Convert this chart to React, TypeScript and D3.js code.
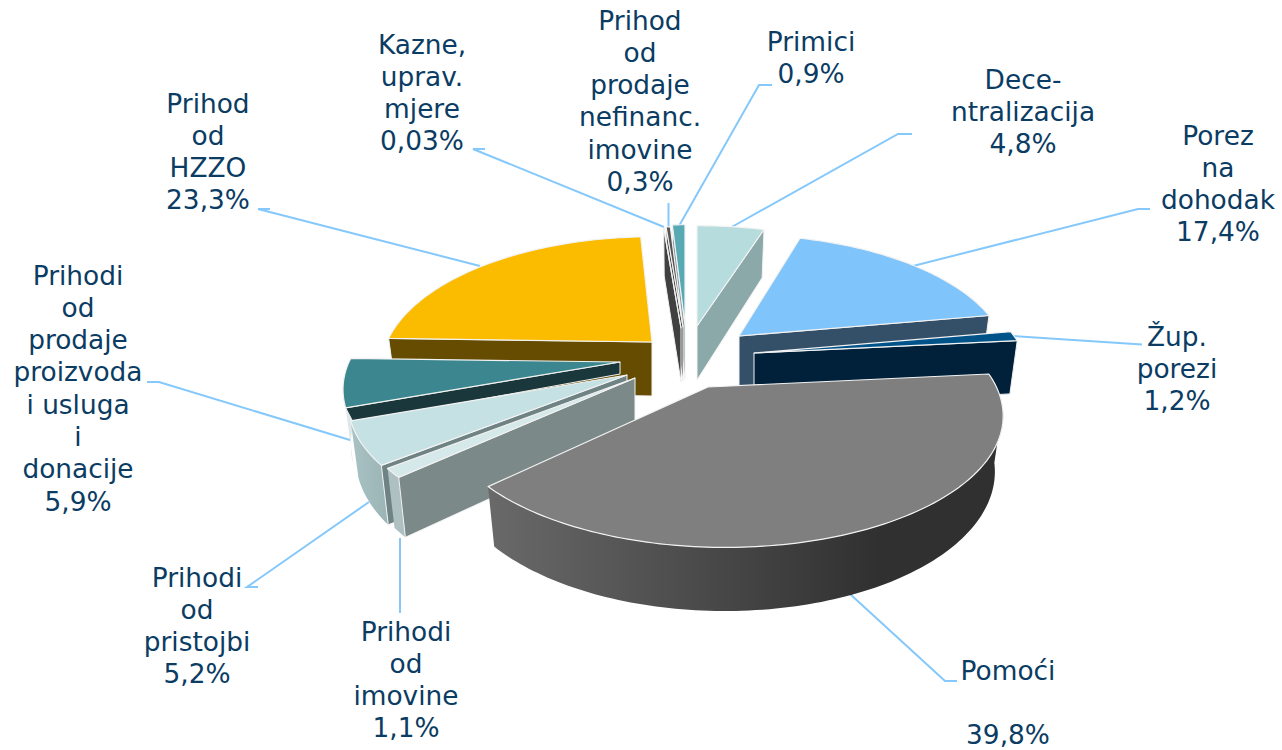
import React from "react";
import * as d3 from "d3";

// ---------- data ----------
const names = ["Dece-ntralizacija", "Porez na dohodak", "Žup. porezi", "Pomoći", "Prihodi od imovine", "Prihodi od pristojbi", "Prihodi od prodaje proizvoda i usluga i donacije", "Prihod od HZZO", "Kazne, uprav. mjere", "Prihod od prodaje nefinanc. imovine", "Primici"];
const shares = [4.8, 17.4, 1.2, 39.8, 1.1, 5.2, 5.9, 23.3, 0.03, 0.3, 0.9];

// ---------- layout of the exploded slices (same order as data) ----------
const apexX = [697, 739, 754, 708, 635, 627, 620, 652, 681, 683, 685];
const apexY = [326, 336, 353, 387, 378, 375, 362, 342, 328, 327, 325];
const radiusX = [270, 263, 270, 274, 275, 273, 271, 265, 270, 270, 270];
const radiusY = [121, 122, 127, 127, 127, 127, 127, 127, 121, 121, 121];
const sideLean = [0, 0, 0, 0.05, 0, 0, 0, 0, 0, 0, 0];
const startNudge = [0, -0.02, 0, 0, 0, 0, 0, 0, 0, 0, 0];
const endNudge = [0, 0, 0, -0.035, 0, 0, 0, 0.026, 0, 0, 0];
const wallDepth = [54, 54, 54, 54, 54, 54, 12, 54, 54, 54, 54];
const topFill = ["#b7dcdd", "#7fc4fa", "#005389", "#7f7f7f", "#d5e8ea", "#c5e1e3", "#3c878f", "#fbbc00", "#555555", "#555555", "#57a9b3"];
const wallFill = ["#8ca9aa", "#335068", "#002139", "#333333", "#7b8a88", "#6f8385", "#1a373b", "#654c00", "#404040", "#404040", "#8a9a9c"];
const rimFill = ["#8ca9aa", "#335068", "#002139", "url(#rimGrey)", "#aec0c2", "url(#rimLight)", "#dfe7e8", "#654c00", "#404040", "#404040", "#8a9a9c"];
const paintOrder = [0, 10, 9, 8, 7, 6, 1, 2, 5, 4, 3];

const perspective = 0.207;
const depth = 54;
const bottomScaleX = 0.972;
const bottomScaleY = 1.06;

// ---------- labels ----------
const labelLines = [
  ["Dece-", "ntralizacija", "4,8%"],
  ["Porez", "na", "dohodak", "17,4%"],
  ["Žup.", "porezi", "1,2%"],
  ["Pomoći", "", "39,8%"],
  ["Prihodi", "od", "imovine", "1,1%"],
  ["Prihodi", "od", "pristojbi", "5,2%"],
  ["Prihodi", "od", "prodaje", "proizvoda", "i usluga", "i", "donacije", "5,9%"],
  ["Prihod", "od", "HZZO", "23,3%"],
  ["Kazne,", "uprav.", "mjere", "0,03%"],
  ["Prihod", "od", "prodaje", "nefinanc.", "imovine", "0,3%"],
  ["Primici", "0,9%"],
];
const labelX = [1023, 1218, 1177, 1008, 406, 197, 78, 208, 422, 640, 811];
const labelTop = [79, 135, 336, 670, 631, 577, 275, 103, 44, 20, 41];
const leaders: [number, number][][] = [
  [[912, 134], [898, 134], [730, 228]],
  [[1150, 209], [1138, 209], [913, 266]],
  [[1142, 344.5], [1014, 336]],
  [[957, 681], [945, 681], [850, 594]],
  [[400, 613], [400, 538]],
  [[258, 587], [247, 587], [369, 502]],
  [[147, 382], [159, 382], [350, 440]],
  [[270, 209], [258, 209], [480, 266]],
  [[485, 149], [473, 149], [664, 227]],
  [[668.5, 203], [668.5, 227]],
  [[772, 85], [759, 85], [679, 226]],
];

const arcs = d3.pie<number>().sort(null).startAngle(0).endAngle(2 * Math.PI)(shares);

type P = [number, number];
const line = d3.line<P>();

function rimPoint(i: number, t: number): P {
  const w = 1 + perspective * Math.cos(t) - sideLean[i] * Math.sin(t);
  return [apexX[i] + (radiusX[i] * Math.sin(t)) / w, apexY[i] - (radiusY[i] * Math.cos(t)) / w];
}
function below(i: number, p: P, d: number = depth): P {
  return [apexX[i] + bottomScaleX * (p[0] - apexX[i]), apexY[i] + d + bottomScaleY * (p[1] - apexY[i])];
}
function rimRange(a: number, b: number): number[] {
  const n = Math.max(2, Math.ceil((b - a) / 0.02));
  return d3.range(n + 1).map((k) => a + ((b - a) * k) / n);
}

const strokeCol = "#f2f2f2";

function Slice({ i }: { i: number }) {
  const a = arcs[i].startAngle + startNudge[i];
  const b = arcs[i].endAngle + endNudge[i];
  const apex: P = [apexX[i], apexY[i]];
  const top = rimRange(a, b).map((t) => rimPoint(i, t));
  const topPath = line([apex, ...top]) + "Z";
  const parts: React.ReactNode[] = [];
  const oa = Math.max(a, 1.72);
  const ob = Math.min(b, 4.74);
  if (ob > oa) {
    const upper = rimRange(oa, ob).map((t) => rimPoint(i, t));
    const lower = upper.map((p) => below(i, p)).reverse();
    parts.push(<path key="o" d={line([...upper, ...lower]) + "Z"} fill={rimFill[i]} stroke="none" />);
  }
  if (a > Math.PI) {
    const r = rimPoint(i, a);
    parts.push(<path key="s" d={line([apex, r, below(i, r, wallDepth[i]), below(i, apex, wallDepth[i])]) + "Z"} fill={wallFill[i]} stroke={strokeCol} strokeWidth={1} />);
  }
  if (b < Math.PI) {
    const r = rimPoint(i, b);
    parts.push(<path key="e" d={line([apex, r, below(i, r, wallDepth[i]), below(i, apex, wallDepth[i])]) + "Z"} fill={wallFill[i]} stroke={strokeCol} strokeWidth={1} />);
  }
  parts.push(<path key="t" d={topPath} fill={topFill[i]} stroke={strokeCol} strokeWidth={1.2} strokeLinejoin="round" />);
  return <g>{parts}</g>;
}

export default function App() {
  return (
    <svg width={1282} height={750} style={{ position: "absolute", left: 0, top: 0, background: "#fff" }} fontFamily="'DejaVu Sans', sans-serif">
      <defs>
        <linearGradient id="rimGrey" gradientUnits="userSpaceOnUse" x1={490} x2={880} y1={0} y2={0}>
          <stop offset="0" stopColor="#696969" />
          <stop offset="1" stopColor="#303030" />
        </linearGradient>
        <linearGradient id="rimLight" gradientUnits="userSpaceOnUse" x1={350} x2={385} y1={0} y2={0}>
          <stop offset="0" stopColor="#a9c3c5" />
          <stop offset="1" stopColor="#9cb5b7" />
        </linearGradient>
      </defs>
      {leaders.map((pts, i) => (
        <path key={i} d={line(pts) ?? ""} fill="none" stroke="#85c8fb" strokeWidth={2} />
      ))}
      {paintOrder.map((i) => (
        <Slice key={names[i]} i={i} />
      ))}
      {labelLines.map((lines, i) => (
        <g key={i}>
          {lines.map((s, j) =>
            s ? (
              <text key={j} x={labelX[i]} y={labelTop[i] + j * 32.3} textAnchor="middle" dominantBaseline="central" fontSize={26.4} fill="#0b3c63">
                {s}
              </text>
            ) : null
          )}
        </g>
      ))}
    </svg>
  );
}
